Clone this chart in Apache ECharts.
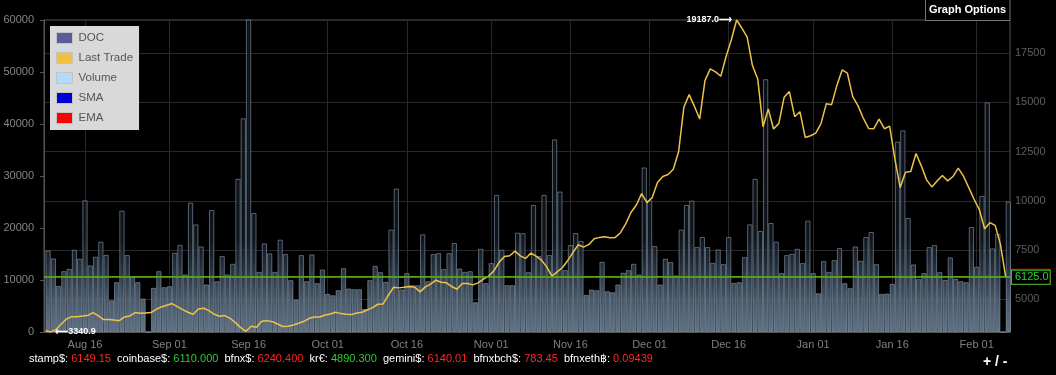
<!DOCTYPE html>
<html><head><meta charset="utf-8">
<script src="https://cdn.jsdelivr.net/npm/echarts@6/dist/echarts.min.js"></script>
<style>html,body{margin:0;padding:0;background:#000;}#c{width:1056px;height:375px;}</style>
</head><body><div id="c"></div>
<script>
// ---------------- data ----------------
const firstBarDay = '2017-08-09';          // daily volume bars, one per day
const volume = [
15690,14150,8870,11700,12150,15820,14080,25330,12800,14470,
17360,14850,6110,9580,23340,14790,10740,9580,6430,0,
8490,11700,8620,8810,15240,16780,11060,24880,20700,16460,
9130,23470,9770,14600,11060,13120,29450,41090,62000,22890,
11570,17040,15110,11570,17750,15000,9970,6240,14790,9770,
14920,9390,12020,7330,7070,8040,12280,8360,8230,8230,
4440,9970,12730,11510,9650,19680,27580,8170,11320,9000,
9000,18780,9770,14980,15170,12090,15170,17100,12220,11570,
11700,5720,16010,9390,13250,26360,15820,9000,9000,19100,
19000,11510,24430,14600,26360,14790,37040,27010,11900,16720,
19030,17490,7140,8170,8040,13500,7840,7650,9130,11380,
11900,13120,11060,31640,25330,16530,9130,14080,13440,10870,
19680,24430,25270,16330,18260,16330,13310,15880,13050,18260,
9450,9580,14400,20700,29450,19420,48610,20960,17360,11320,
14790,15050,16010,13250,21410,11320,7460,13630,11570,13820,
16140,9390,8420,16460,13700,18260,19230,13050,7330,7390,
9260,36590,38770,21930,12990,10160,11320,16330,16720,11510,
10030,14340,10220,9770,9580,20190,12540,26170,44170,16075,
18900,0,25080
];
const firstPriceTime = '2017-08-08T12:00:00Z'; // last trade, one point per day
const lastTrade = [
3409,3340.9,3460,3750,4000,4120,4120,4156,4173,4326,
4173,3970,3970,3952,3918,4105,4156,4326,4292,4309,
4326,4495,4614,4700,4784,4631,4478,4343,4241,4512,
4546,4427,4241,4139,4173,4037,3816,3562,3375,3630,
3579,3884,3918,3867,3748,3620,3630,3697,3782,3884,
4037,4105,4105,4207,4258,4343,4275,4241,4224,4309,
4343,4461,4580,4750,4767,5209,5616,5582,5616,5650,
5616,5379,5633,5769,5973,5871,5837,5650,5514,5803,
5803,5735,5837,6024,6177,6448,6890,7178,7212,7450,
7210,7077,7348,7195,6992,6652,6177,6397,6618,6975,
7382,7773,7654,7790,8078,8146,8180,8129,8146,8384,
8842,9420,9793,10371,9912,10167,10931,11237,11339,11610,
12493,14752,15397,14803,14157,16110,16704,16551,16331,17333,
18182,19187,18776,18317,16874,16195,13767,14667,13648,13937,
15261,15550,14276,14531,13223,13308,13444,13937,14938,14887,
15855,16653,16483,15295,14836,14208,13682,13665,14157,13665,
13801,12119,10676,11457,11491,12408,11780,11067,10710,11016,
11288,11016,11237,11661,11254,10676,10082,9556,8588,8893,
8757,7790,6125
];
const tickDates = ['2017-08-16','2017-09-01','2017-09-16','2017-10-01','2017-10-16','2017-11-01','2017-11-16','2017-12-01','2017-12-16','2018-01-01','2018-01-16','2018-02-01'];
const tickLabels = ['Aug 16','Sep 01','Sep 16','Oct 01','Oct 16','Nov 01','Nov 16','Dec 01','Dec 16','Jan 01','Jan 16','Feb 01'];
const volumeTicks = [0,10000,20000,30000,40000,50000,60000];
const priceTicks = [5000,7500,10000,12500,15000,17500];
const currentPrice = 6125.0;
const stampPrice = 6149.15;
const legendNames = ['DOC','Last Trade','Volume','SMA','EMA'];
const legendColors = ['#5b5b9b','#f0c040','#b4daf8','#0000d8','#ff0000'];
const tickerNames = ['stamp$','coinbase$','bfnx$','kr€','gemini$','bfnxbch$','bfnxeth฿'];
const tickerValues = ['6149.15','6110.000','6240.400','4890.300','6140.01','783.45','0.09439'];
const tickerUp = [false,true,false,true,false,false,false];
const xRange = ['2017-08-08T05:30:00Z','2018-02-07T07:30:00Z'];

// ---------------- build ----------------
const DAY = 86400000;
const FONT = "'Liberation Sans', Arial, sans-serif";
const bar0 = Date.parse(firstBarDay + 'T00:00:00Z');
const p0 = Date.parse(firstPriceTime);
const volumeData = volume.map((v,i)=>[bar0 + i*DAY, v]);
const priceData = lastTrade.map((v,i)=>[p0 + i*DAY, v]);
const tickTimes = tickDates.map(d=>Date.parse(d + 'T00:00:00Z'));
const priceMin = Math.min(...lastTrade), priceMax = Math.max(...lastTrade);

function dateLabel(v){
  let best = 0, bd = Infinity;
  tickTimes.forEach((t,i)=>{ const d = Math.abs(t - v); if (d < bd){bd = d; best = i;} });
  return tickLabels[best];
}
const plain = v => String(Math.round(v));

const chart = echarts.init(document.getElementById('c'), null, {renderer:'canvas'});
const gridLine = {show:true, lineStyle:{color:'#282828', width:1}};
const tickerText = tickerNames.map((n,i)=>'{n|' + n + ': }{' + (tickerUp[i]?'u':'d') + '|' + tickerValues[i] + '}').join('{n|  }');
const priceBox = (c, tc) => ({show:true, position:'end', distance:2, color:tc, fontSize:11, fontFamily:FONT,
  backgroundColor:'#000', borderColor:c, borderWidth:1, padding:[1,1,0,3], lineHeight:12});

const option = {
  backgroundColor:'#000',
  animation:false,
  textStyle:{fontFamily:FONT},
  grid:{left:44, right:46, top:20, bottom:43, show:true, borderColor:'#555', borderWidth:1, outerBoundsMode:'none'},
  legend:{
    orient:'vertical', left:50, top:26, padding:[6,6,6,6],
    backgroundColor:'#d9d9d9', borderWidth:0,
    icon:'rect', itemWidth:16, itemHeight:11, itemGap:8,
    itemStyle:{borderColor:'#c4c4c4', borderWidth:1},
    textStyle:{color:'#555', fontSize:11.5, fontFamily:FONT, lineHeight:11, padding:[0,0,0,1]},
    selectedMode:false,
    data: legendNames.map((n,i)=>({name:n, itemStyle:{color:legendColors[i]}}))
  },
  xAxis:{
    type:'value', min:Date.parse(xRange[0]), max:Date.parse(xRange[1]),
    axisLine:{show:true, lineStyle:{color:'#555'}},
    axisTick:{show:false, customValues:tickTimes},
    axisLabel:{customValues:tickTimes, formatter:dateLabel, color:'#808080', fontSize:11, margin:7, fontFamily:FONT},
    splitLine:gridLine
  },
  yAxis:[
    {type:'value', position:'left', min:volumeTicks[0], max:volumeTicks[volumeTicks.length-1], interval:10000,
     axisLine:{show:true, lineStyle:{color:'#555'}},
     axisTick:{show:true, length:4, lineStyle:{color:'#555'}},
     axisLabel:{color:'#858585', fontSize:11, margin:10, fontFamily:FONT, formatter:plain},
     splitLine:{show:false}},
    {type:'value', position:'right', min:priceMin, max:priceMax,
     axisLine:{show:false},
     axisTick:{show:false, customValues:priceTicks},
     axisLabel:{customValues:priceTicks, color:'#5f5f5f', fontSize:11, margin:5, fontFamily:FONT, formatter:plain},
     splitLine:gridLine}
  ],
  series:[
    {name:'DOC', type:'line', data:[], itemStyle:{color:legendColors[0]}},
    {name:'Volume', type:'bar', xAxisIndex:0, yAxisIndex:0, data:volumeData, barWidth:5.27, z:2,
     itemStyle:{
       color:{type:'linear', x:0, y:20, x2:0, y2:332, global:true, colorStops:[
         {offset:0, color:'rgba(14,20,28,0.7)'},
         {offset:0.7, color:'rgba(20,27,36,0.75)'},
         {offset:0.8, color:'rgba(45,58,73,0.85)'},
         {offset:0.9, color:'rgba(78,95,113,0.95)'},
         {offset:1, color:'rgba(96,114,132,1)'}]},
       borderColor:'rgba(135,155,175,0.6)', borderWidth:1
     }},
    {name:'EMA', type:'line', yAxisIndex:1, data:[], z:3, itemStyle:{color:legendColors[4]},
     markLine:{silent:true, symbol:'none', animation:false, z:3, data:[
       {yAxis:stampPrice, lineStyle:{color:'#ff1010', width:1.2, type:'solid'},
        label:Object.assign(priceBox('#ff1010','#ff2020'), {formatter:stampPrice.toFixed(1), padding:[2,1,0,3]})}
     ]}},
    {name:'Last Trade', type:'line', yAxisIndex:1, data:priceData, z:5,
     symbol:'none', showSymbol:false,
     lineStyle:{color:'#ecc24a', width:1.5},
     itemStyle:{color:legendColors[1]},
     markLine:{silent:true, symbol:'none', animation:false, z:8, data:[
       {yAxis:currentPrice, lineStyle:{color:'#1fd11f', width:1.6, type:'solid'},
        label:Object.assign(priceBox('#22cc22','#2bd42b'), {formatter:currentPrice.toFixed(1)})}
     ]},
     markPoint:{silent:true, symbol:'circle', symbolSize:1, itemStyle:{color:'rgba(0,0,0,0)'}, animation:false,
       label:{show:true, color:'#fff', fontSize:9, fontWeight:'bold', fontFamily:FONT},
       data:[
         {type:'max', label:{position:'left', distance:4, formatter:p=>Number(p.value).toFixed(1)+'⟶'}},
         {type:'min', label:{position:'right', distance:4, formatter:p=>'⟵'+Number(p.value).toFixed(1)}}
       ]}
    },
    {name:'SMA', type:'line', data:[], itemStyle:{color:legendColors[3]}}
  ],
  graphic:[
    {type:'rect', z:100, shape:{x:925.5, y:-0.5, width:84.5, height:21}, style:{fill:'#000', stroke:'#777', lineWidth:1}},
    {type:'text', z:101, x:967.5, y:10, style:{text:'Graph Options', fill:'#fff', font:"bold 11px 'Liberation Sans', Arial", align:'center', verticalAlign:'middle'}},
    {type:'text', z:101, x:29, y:359, style:{text:tickerText, verticalAlign:'middle', fontSize:11, fontFamily:FONT,
      rich:{n:{fill:'#fff', fontSize:11, fontFamily:FONT}, u:{fill:'#2ecc2e', fontSize:11, fontFamily:FONT}, d:{fill:'#ff2626', fontSize:11, fontFamily:FONT}}}},
    {type:'text', z:101, x:983, y:362, style:{text:'+ / -', fill:'#fff', font:"bold 14px 'Liberation Sans', Arial", verticalAlign:'middle'}}
  ]
};
chart.setOption(option);
</script></body></html>
